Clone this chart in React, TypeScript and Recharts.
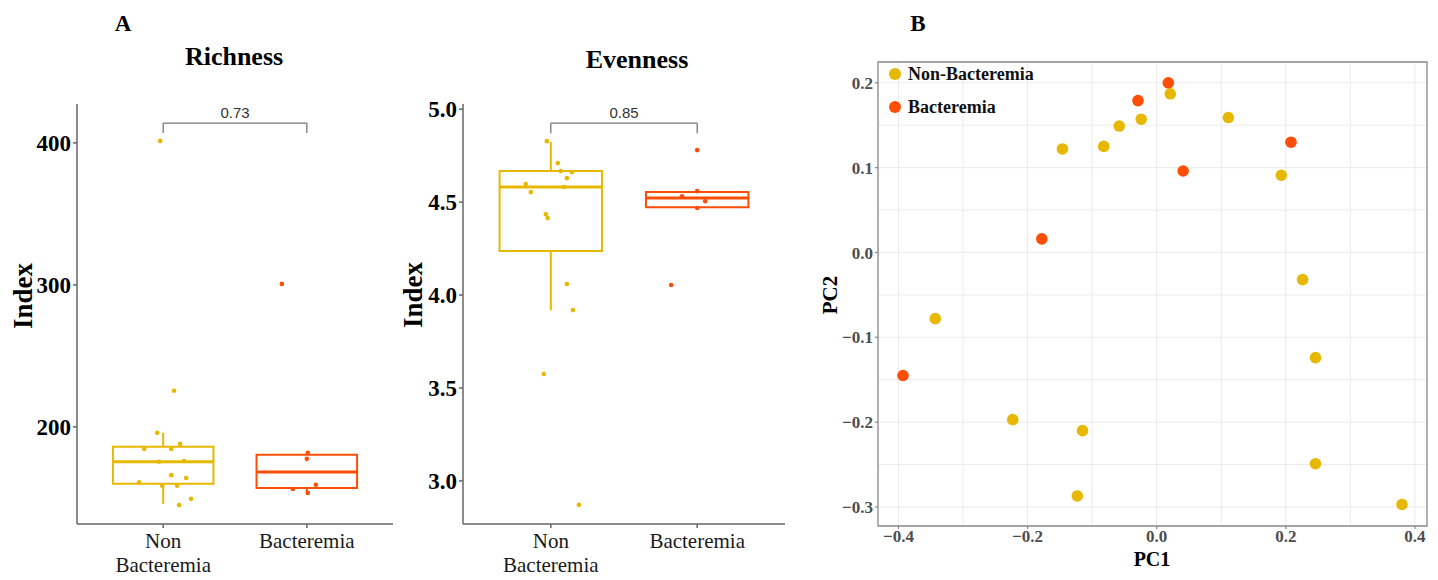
import React from 'react';
import { ScatterChart, Scatter, XAxis, YAxis, ReferenceArea, ReferenceLine, CartesianGrid } from 'recharts';

const SERIF = '"Liberation Serif", "Times New Roman", serif';
const SANS = '"Liberation Sans", Arial, sans-serif';
const YELLOW = '#E7B800';
const ORANGE = '#FC4E07';

const groupLabels = ['Non\nBacteremia', 'Bacteremia'];

// jittered position (1 = Non Bacteremia, 2 = Bacteremia), value
const richnessNon = [
  [0.979, 401.4], [1.076, 225.4], [0.958, 195.8], [1.118, 188], [0.868, 184.5],
  [1.056, 184.5], [1.146, 176], [0.972, 175.4], [1.056, 166], [1.16, 164],
  [0.833, 161], [0.993, 158.5], [1.097, 158.5], [1.194, 149.3], [1.111, 145],
];
const richnessBact = [
  [1.826, 300.7], [2.007, 181.7], [2.0, 177.5], [2.063, 159.2], [1.903, 156.3], [2.007, 153.5],
];
const richnessBoxes = [
  { pos: 1, low: 145.8, q1: 159.9, med: 175.4, q3: 186, high: 195.8 },
  { pos: 2, low: 153.5, q1: 157, med: 168.3, q3: 180.3, high: 181.7 },
];
const richnessTicks = [200, 300, 400];
const richnessP = { label: '0.73', y: 414, drop: 407 };

const evennessNon = [
  [0.973, 4.828], [1.048, 4.71], [1.068, 4.667], [1.144, 4.661], [1.11, 4.629],
  [0.829, 4.597], [1.089, 4.581], [0.863, 4.554], [0.966, 4.435], [0.979, 4.414],
  [1.11, 4.059], [1.151, 3.919], [0.952, 3.575], [1.192, 2.871],
];
const evennessBact = [
  [2.0, 4.78], [1.897, 4.532], [2.0, 4.559], [2.055, 4.505], [2.0, 4.468], [1.822, 4.054],
];
const evennessBoxes = [
  { pos: 1, low: 3.919, q1: 4.237, med: 4.581, q3: 4.667, high: 4.823 },
  { pos: 2, low: 4.468, q1: 4.473, med: 4.522, q3: 4.554, high: 4.559 },
];
const evennessTicks = [3.0, 3.5, 4.0, 4.5, 5.0];
const evennessP = { label: '0.85', y: 4.925, drop: 4.871 };

// PCA scores: PC1, PC2
const pcaNon = [
  [-0.146, 0.122], [-0.082, 0.125], [-0.058, 0.149], [-0.024, 0.157], [0.021, 0.187],
  [0.111, 0.159], [0.193, 0.091], [0.226, -0.032], [0.246, -0.124], [0.246, -0.249],
  [0.38, -0.297], [-0.343, -0.078], [-0.223, -0.197], [-0.115, -0.21], [-0.123, -0.287],
];
const pcaBact = [
  [0.018, 0.2], [-0.029, 0.179], [0.208, 0.13], [0.041, 0.096], [-0.178, 0.016], [-0.393, -0.145],
];
const pcaTicksX = [-0.4, -0.2, 0, 0.2, 0.4];
const pcaTicksY = [-0.3, -0.2, -0.1, 0, 0.1, 0.2];
const pcaGridX = [-0.4, -0.3, -0.2, -0.1, 0, 0.1, 0.2, 0.3, 0.4];
const pcaGridY = [-0.3, -0.25, -0.2, -0.15, -0.1, -0.05, 0, 0.05, 0.1, 0.15, 0.2];

const toPoints = (arr: number[][]) => arr.map(([x, y]) => ({ x, y }));
const minus = (v: number) => (v < 0 ? '\u2212' : '') + Math.abs(v).toFixed(1);

const GroupTick = (props: any) => {
  const { x, y, payload } = props;
  const lines = groupLabels[payload.value - 1].split('\n');
  return (
    <text textAnchor="middle" fontFamily={SERIF} fontSize={21} fill="#1a1a1a">
      {lines.map((l, i) => (
        <tspan key={i} x={x} y={y + 18 + i * 24}>{l}</tspan>
      ))}
    </text>
  );
};

const dot = (r: number, color: string) => (p: any) => <circle cx={p.cx} cy={p.cy} r={r} fill={color} />;

function BoxPanel({ non, bact, boxes, domain, ticks, p, fmt, width, marginLeft, marginRight }: any) {
  const colors = [YELLOW, ORANGE];
  const axisStyle = { stroke: '#666', strokeWidth: 1.5 };
  return (
    <ScatterChart width={width} height={580} margin={{ top: 104, right: marginRight, bottom: 0, left: marginLeft }}>
      <XAxis
        type="number" dataKey="x" domain={[0.4, 2.6]} ticks={[1, 2]} interval={0} allowDataOverflow
        height={56} tickSize={4} tickMargin={2} axisLine={axisStyle} tickLine={axisStyle} tick={<GroupTick />}
      />
      <YAxis
        type="number" dataKey="y" domain={domain} ticks={ticks} interval={0} allowDataOverflow width={60}
        tickSize={4} tickMargin={2} axisLine={axisStyle} tickLine={axisStyle} tickFormatter={fmt}
        tick={{ fill: '#000', fontSize: 23, fontWeight: 'bold', fontFamily: SERIF }}
      />
      {boxes.map((b: any, i: number) => (
        <ReferenceArea key={'a' + i} x1={b.pos - 0.35} x2={b.pos + 0.35} y1={b.q1} y2={b.q3}
          fill="none" stroke={colors[i]} strokeWidth={2} ifOverflow="visible" />
      ))}
      {boxes.map((b: any, i: number) => (
        <ReferenceLine key={'m' + i} segment={[{ x: b.pos - 0.35, y: b.med }, { x: b.pos + 0.35, y: b.med }]}
          stroke={colors[i]} strokeWidth={3} ifOverflow="visible" />
      ))}
      {boxes.map((b: any, i: number) => (
        <ReferenceLine key={'u' + i} segment={[{ x: b.pos, y: b.q3 }, { x: b.pos, y: b.high }]}
          stroke={colors[i]} strokeWidth={2} ifOverflow="visible" />
      ))}
      {boxes.map((b: any, i: number) => (
        <ReferenceLine key={'l' + i} segment={[{ x: b.pos, y: b.low }, { x: b.pos, y: b.q1 }]}
          stroke={colors[i]} strokeWidth={2} ifOverflow="visible" />
      ))}
      <ReferenceLine segment={[{ x: 1, y: p.y }, { x: 2, y: p.y }]} stroke="#777" strokeWidth={1.3} ifOverflow="visible"
        label={{ value: p.label, position: 'top', offset: 5, fill: '#333', fontSize: 15, fontFamily: SANS }} />
      <ReferenceLine segment={[{ x: 1, y: p.drop }, { x: 1, y: p.y }]} stroke="#777" strokeWidth={1.3} ifOverflow="visible" />
      <ReferenceLine segment={[{ x: 2, y: p.drop }, { x: 2, y: p.y }]} stroke="#777" strokeWidth={1.3} ifOverflow="visible" />
      <Scatter data={toPoints(non)} fill={YELLOW} shape={dot(2.3, YELLOW)} isAnimationActive={false} />
      <Scatter data={toPoints(bact)} fill={ORANGE} shape={dot(2.3, ORANGE)} isAnimationActive={false} />
    </ScatterChart>
  );
}

function PcaPanel() {
  const tickStyle = { fill: '#4D4D4D', fontSize: 17, fontWeight: 'bold', fontFamily: SERIF };
  const line = { stroke: '#888', strokeWidth: 1.2 };
  const xDom = [-0.4317, 0.4187];
  const yDom = [-0.3224, 0.2245];
  return (
    <ScatterChart width={618} height={580} margin={{ top: 62, right: 11, bottom: 0, left: 8 }}>
      <CartesianGrid horizontalValues={pcaGridY} verticalValues={pcaGridX} stroke="#EBEBEB" strokeWidth={1} />
      <XAxis type="number" dataKey="x" domain={xDom} ticks={pcaTicksX} interval={0} allowDataOverflow height={54}
        tickSize={3} tickMargin={1} axisLine={false} tickLine={line} tick={tickStyle} tickFormatter={minus} />
      <YAxis type="number" dataKey="y" domain={yDom} ticks={pcaTicksY} interval={0} allowDataOverflow width={50}
        tickSize={3} tickMargin={2} axisLine={false} tickLine={line} tick={tickStyle} tickFormatter={minus} />
      <ReferenceArea x1={xDom[0]} x2={xDom[1]} y1={yDom[0]} y2={yDom[1]} fill="none" stroke="#888" strokeWidth={1.3} ifOverflow="visible" />
      <Scatter data={toPoints(pcaNon)} fill={YELLOW} shape={dot(5.8, YELLOW)} isAnimationActive={false} />
      <Scatter data={toPoints(pcaBact)} fill={ORANGE} shape={dot(5.8, ORANGE)} isAnimationActive={false} />
    </ScatterChart>
  );
}

export default function App() {
  const bold = { fontFamily: SERIF, fontWeight: 'bold' as const, fill: '#000' };
  return (
    <div style={{ position: 'absolute', left: 0, top: 0, width: 1438, height: 580, background: '#fff', overflow: 'hidden' }}>
      <div style={{ position: 'absolute', left: 0, top: 0 }}>
        <BoxPanel non={richnessNon} bact={richnessBact} boxes={richnessBoxes} domain={[131.6, 427.4]}
          ticks={richnessTicks} p={richnessP} fmt={(v: number) => String(v)} width={400} marginLeft={17} marginRight={7} />
      </div>
      <div style={{ position: 'absolute', left: 400, top: 0 }}>
        <BoxPanel non={evennessNon} bact={evennessBact} boxes={evennessBoxes} domain={[2.768, 5.028]}
          ticks={evennessTicks} p={evennessP} fmt={(v: number) => v.toFixed(1)} width={390} marginLeft={3} marginRight={5} />
      </div>
      <div style={{ position: 'absolute', left: 820, top: 0 }}>
        <PcaPanel />
      </div>
      <svg width={1438} height={580} style={{ position: 'absolute', left: 0, top: 0, pointerEvents: 'none' }}>
        <text x={123} y={31} textAnchor="middle" fontSize={23} {...bold}>A</text>
        <text x={234} y={65} textAnchor="middle" fontSize={26} {...bold}>Richness</text>
        <text x={637} y={68} textAnchor="middle" fontSize={26} {...bold}>Evenness</text>
        <text x={918} y={31} textAnchor="middle" fontSize={23} {...bold}>B</text>
        <text transform="translate(32,296) rotate(-90)" textAnchor="middle" fontSize={27} {...bold}>Index</text>
        <text transform="translate(422,295) rotate(-90)" textAnchor="middle" fontSize={27} {...bold}>Index</text>
        <text transform="translate(837,295) rotate(-90)" textAnchor="middle" fontSize={21} {...bold}>PC2</text>
        <text x={1152} y={566} textAnchor="middle" fontSize={20} {...bold}>PC1</text>
        <circle cx={895} cy={74} r={6} fill={YELLOW} />
        <text x={908} y={80} fontSize={18} {...bold} fill="#111">Non-Bacteremia</text>
        <circle cx={895} cy={107} r={6} fill={ORANGE} />
        <text x={908} y={112.5} fontSize={18} {...bold} fill="#111">Bacteremia</text>
      </svg>
    </div>
  );
}
